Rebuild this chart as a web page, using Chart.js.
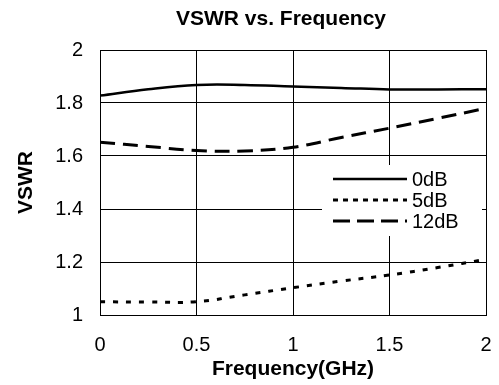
<!DOCTYPE html>
<html>
<head>
<meta charset="utf-8">
<script src="https://cdn.jsdelivr.net/npm/chart.js@4"></script>
<style>
  html, body { margin: 0; padding: 0; background: #fff; }
  #wrap { width: 499px; height: 385px; }
</style>
</head>
<body>
<div id="wrap"><canvas id="chart" width="499" height="385"></canvas></div>
<script>
// данні
const freq = [0, 0.25, 0.5, 0.75, 1, 1.25, 1.5, 1.75, 2];
const vswr0dB  = [1.828, 1.852, 1.868, 1.868, 1.862, 1.857, 1.851, 1.851, 1.852];
const vswr5dB  = [1.050, 1.049, 1.050, 1.076, 1.103, 1.128, 1.151, 1.179, 1.210];
const vswr12dB = [1.652, 1.636, 1.621, 1.619, 1.633, 1.670, 1.705, 1.742, 1.780];

const xTickLabels = ["0", "0.5", "1", "1.5", "2"];
const yTickLabels = ["1", "1.2", "1.4", "1.6", "1.8", "2"];

const FONT = "Arial, 'Liberation Sans', sans-serif";

function points(ys) {
    return freq.map((x, i) => ({ x: x, y: ys[i] }));
}

// заголовок графіка
const titlePlugin = {
    id: "plotTitle",
    afterDraw(chart) {
        const ctx = chart.ctx;
        ctx.save();
        ctx.font = "bold 21px " + FONT;
        ctx.fillStyle = "#000";
        ctx.textAlign = "center";
        ctx.textBaseline = "middle";
        ctx.fillText("VSWR vs. Frequency", 281, 19);
        ctx.restore();
    }
};

// легенда всередині області графіка
const legendPlugin = {
    id: "insideLegend",
    afterDatasetsDraw(chart) {
        const ctx = chart.ctx;
        ctx.save();
        ctx.fillStyle = "#fff";
        ctx.fillRect(322, 165, 160, 71);
        ctx.font = "20px " + FONT;
        ctx.textBaseline = "middle";
        ctx.textAlign = "left";
        chart.data.datasets.forEach((ds, i) => {
            const y = 179 + i * 21;
            ctx.strokeStyle = ds.borderColor;
            ctx.lineWidth = ds.borderWidth;
            ctx.setLineDash(ds.legendDash || ds.borderDash || []);
            ctx.beginPath();
            ctx.moveTo(333, y);
            ctx.lineTo(407, y);
            ctx.stroke();
            ctx.setLineDash([]);
            ctx.fillStyle = "#000";
            ctx.fillText(ds.label, 412, y + 1);
        });
        ctx.restore();
    }
};

new Chart(document.getElementById("chart"), {
    type: "line",
    data: {
        datasets: [
            {
                label: "0dB",
                data: points(vswr0dB),
                borderColor: "#000",
                borderWidth: 2.5,
                borderDash: [],
                pointRadius: 0,
                tension: 0.4,
                fill: false
            },
            {
                label: "5dB",
                data: points(vswr5dB),
                borderColor: "#000",
                borderWidth: 3,
                borderDash: [5, 8],
                legendDash: [5, 5],
                pointRadius: 0,
                tension: 0.4,
                fill: false
            },
            {
                label: "12dB",
                data: points(vswr12dB),
                borderColor: "#000",
                borderWidth: 3,
                borderDash: [15, 8],
                legendDash: [17, 7],
                pointRadius: 0,
                tension: 0.4,
                fill: false
            }
        ]
    },
    options: {
        responsive: false,
        animation: false,
        layout: { padding: { top: 50, right: 13, left: 0, bottom: 0 } },
        plugins: {
            legend: { display: false },
            title: { display: false },
            tooltip: { enabled: false }
        },
        scales: {
            x: {
                type: "linear",
                min: 0,
                max: 2,
                afterFit(scale) {
                    scale.height = 70;
                    scale.paddingLeft = 0;
                    scale.paddingRight = 0;
                },
                afterBuildTicks(scale) {
                    scale.ticks = xTickLabels.map(t => ({ value: Number(t) }));
                },
                ticks: {
                    color: "#000",
                    font: { family: FONT, size: 20 },
                    padding: 18,
                    maxRotation: 0,
                    callback: (v) => xTickLabels.find(t => Number(t) === v)
                },
                grid: { color: "#000", lineWidth: 1, drawTicks: false },
                border: { color: "#000", width: 1 },
                title: {
                    display: true,
                    text: "Frequency(GHz)",
                    color: "#000",
                    font: { family: FONT, size: 21, weight: "bold" },
                    padding: { top: 0, bottom: 3 }
                }
            },
            y: {
                type: "linear",
                min: 1,
                max: 2,
                afterFit(scale) { scale.width = 100; },
                afterBuildTicks(scale) {
                    scale.ticks = yTickLabels.map(t => ({ value: Number(t) }));
                },
                ticks: {
                    color: "#000",
                    font: { family: FONT, size: 20 },
                    padding: 17,
                    callback: (v) => yTickLabels.find(t => Math.abs(Number(t) - v) < 1e-9)
                },
                grid: { color: "#000", lineWidth: 1, drawTicks: false },
                border: { color: "#000", width: 1 },
                title: {
                    display: true,
                    text: "VSWR",
                    color: "#000",
                    font: { family: FONT, size: 21, weight: "bold" },
                    padding: { top: 14, bottom: 0 }
                }
            }
        }
    },
    plugins: [titlePlugin, legendPlugin]
});
</script>
</body>
</html>
